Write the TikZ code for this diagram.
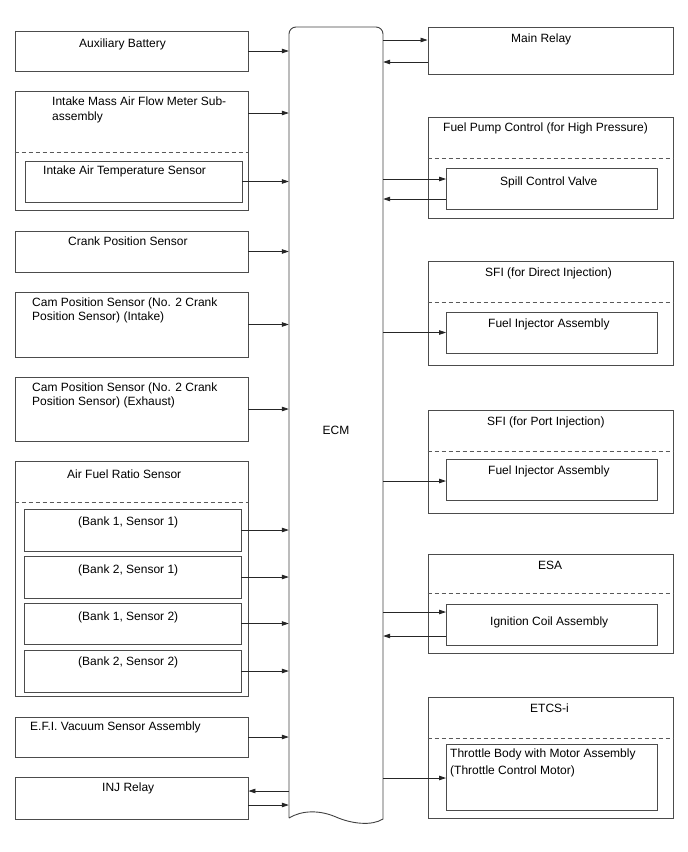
\documentclass[tikz,border=0pt]{standalone}
\usepackage{fontspec}
\setmainfont{Liberation Sans}
\usetikzlibrary{arrows.meta}
\begin{document}
\begin{tikzpicture}[x=1pt,y=-1pt,
  box/.style={draw=black!70, line width=0.9pt, inner sep=0, minimum height=#1},
  lbox/.style={box=#1, minimum width=233},
  linner/.style={box=#1, minimum width=217},
  rbox/.style={box=#1, minimum width=245},
  rinner/.style={box=#1, minimum width=211},
  lbl/.style={anchor=base west, inner sep=0, font=\fontsize{12}{14}\selectfont},
  dsh/.style={draw=black!65, line width=0.8pt, dash pattern=on 4pt off 3pt},
  arr/.style={-{Triangle[length=7pt,width=4.5pt]}, line width=0.8pt, draw=black!85}]
\useasboundingbox (0,0) rectangle (688,852);

% ECM
\node[minimum width=94, minimum height=793, inner sep=0] (ecm) at (336,423.5) {};
\draw[draw=black!75, line width=0.9pt] (289,818) {[rounded corners=7] -- (289,27) -- (383,27)} -- (383,819)
  .. controls (372,826) and (352,824) .. (336,817)
  .. controls (320,810) and (302,810) .. (289,818);
\node[lbl, anchor=base] (ecmlbl) at (336,434) {ECM};

% Left side
\node[lbox=40] (aux) at (131.5,51) {};
\node[lbl] (auxt) at (79,47.3) {Auxiliary Battery};

\node[lbox=119] (maf) at (131.5,150.5) {};
\node[lbl] (maft1) at (52,105.3) {Intake Mass Air Flow Meter Sub-};
\node[lbl] (maft2) at (52,120.3) {assembly};
\draw[dsh] ([yshift=-62]maf.north west) -- ([yshift=-62]maf.north east);
\node[linner=41] (iat) at (133.5,181.5) {};
\node[lbl] (iatt) at (43,174.3) {Intake Air Temperature Sensor};

\node[lbox=41] (crank) at (131.5,251.5) {};
\node[lbl] (crankt) at (68,245.3) {Crank Position Sensor};

\node[lbox=65] (camin) at (131.5,324.5) {};
\node[lbl] (camint1) at (32,306.3) {Cam Position Sensor (No. 2 Crank};
\node[lbl] (camint2) at (32,320.3) {Position Sensor) (Intake)};

\node[lbox=64] (camex) at (131.5,409) {};
\node[lbl] (camext1) at (32,391.3) {Cam Position Sensor (No. 2 Crank};
\node[lbl] (camext2) at (32,405.3) {Position Sensor) (Exhaust)};

\node[lbox=235] (afr) at (131.5,578.5) {};
\node[lbl] (afrt) at (67,478.3) {Air Fuel Ratio Sensor};
\draw[dsh] ([yshift=-42]afr.north west) -- ([yshift=-42]afr.north east);
\node[linner=42] (b11) at (132.5,530) {};
\node[lbl] (b11t) at (78,525.3) {(Bank 1, Sensor 1)};
\node[linner=42] (b21) at (132.5,577) {};
\node[lbl] (b21t) at (78,573.3) {(Bank 2, Sensor 1)};
\node[linner=41] (b12) at (132.5,623.5) {};
\node[lbl] (b12t) at (78,620.3) {(Bank 1, Sensor 2)};
\node[linner=42] (b22) at (132.5,671) {};
\node[lbl] (b22t) at (78,665.3) {(Bank 2, Sensor 2)};

\node[lbox=40] (efi) at (131.5,737) {};
\node[lbl] (efit) at (30,730.3) {E.F.I. Vacuum Sensor Assembly};

\node[lbox=42] (inj) at (131.5,798) {};
\node[lbl] (injt) at (102,791.3) {INJ Relay};

% Right side
\node[rbox=47] (mr) at (550.5,50.5) {};
\node[lbl] (mrt) at (511,42.3) {Main Relay};

\node[rbox=101] (fpc) at (550.5,167.5) {};
\node[lbl] (fpct) at (443,131.3) {Fuel Pump Control (for High Pressure)};
\draw[dsh] ([yshift=-42]fpc.north west) -- ([yshift=-42]fpc.north east);
\node[rinner=41] (scv) at (552,188.5) {};
\node[lbl] (scvt) at (500,185.3) {Spill Control Valve};

\node[rbox=104] (sfid) at (550.5,313) {};
\node[lbl] (sfidt) at (485,276.3) {SFI (for Direct Injection)};
\draw[dsh] ([yshift=-42]sfid.north west) -- ([yshift=-42]sfid.north east);
\node[rinner=41] (fi1) at (552,332.5) {};
\node[lbl] (fi1t) at (488,327.3) {Fuel Injector Assembly};

\node[rbox=103] (sfip) at (550.5,461.5) {};
\node[lbl] (sfipt) at (487,425.3) {SFI (for Port Injection)};
\draw[dsh] ([yshift=-42]sfip.north west) -- ([yshift=-42]sfip.north east);
\node[rinner=41] (fi2) at (552,479.5) {};
\node[lbl] (fi2t) at (488,474.3) {Fuel Injector Assembly};

\node[rbox=99] (esa) at (550.5,603.5) {};
\node[lbl] (esat) at (538,569.3) {ESA};
\draw[dsh] ([yshift=-40]esa.north west) -- ([yshift=-40]esa.north east);
\node[rinner=41] (coil) at (552,624.5) {};
\node[lbl] (coilt) at (490,625.3) {Ignition Coil Assembly};

\node[rbox=121] (etcs) at (550.5,757.5) {};
\node[lbl] (etcst) at (530,712.3) {ETCS-i};
\draw[dsh] ([yshift=-42]etcs.north west) -- ([yshift=-42]etcs.north east);
\node[rinner=66] (tb) at (552,777) {};
\node[lbl] (tbt1) at (450,757.3) {Throttle Body with Motor Assembly};
\node[lbl] (tbt2) at (450,774.3) {(Throttle Control Motor)};

% Connectors left
\draw[arr] (aux.east) -- (aux.east -| ecm.west);
\draw[arr] ([yshift=37.5]maf.east) -- ([yshift=37.5]maf.east -| ecm.west);
\draw[arr] (iat.east) -- (iat.east -| ecm.west);
\draw[arr] (crank.east) -- (crank.east -| ecm.west);
\draw[arr] (camin.east) -- (camin.east -| ecm.west);
\draw[arr] (camex.east) -- (camex.east -| ecm.west);
\draw[arr] (b11.east) -- (b11.east -| ecm.west);
\draw[arr] (b21.east) -- (b21.east -| ecm.west);
\draw[arr] (b12.east) -- (b12.east -| ecm.west);
\draw[arr] (b22.east) -- (b22.east -| ecm.west);
\draw[arr] (efi.east) -- (efi.east -| ecm.west);
\draw[arr] ([yshift=7]inj.east -| ecm.west) -- ([yshift=7]inj.east);
\draw[arr] ([yshift=-7]inj.east) -- ([yshift=-7]inj.east -| ecm.west);

% Connectors right
\draw[arr] ([yshift=10.5]mr.west -| ecm.east) -- ([yshift=10.5]mr.west);
\draw[arr] ([yshift=-11.5]mr.west) -- ([yshift=-11.5]mr.west -| ecm.east);
\draw[arr] ([yshift=9.5]scv.west -| ecm.east) -- ([yshift=9.5]scv.west);
\draw[arr] ([yshift=-10.5]scv.west) -- ([yshift=-10.5]scv.west -| ecm.east);
\draw[arr] (fi1.west -| ecm.east) -- (fi1.west);
\draw[arr] ([yshift=-1.5]fi2.west -| ecm.east) -- ([yshift=-1.5]fi2.west);
\draw[arr] ([yshift=12.5]coil.west -| ecm.east) -- ([yshift=12.5]coil.west);
\draw[arr] ([yshift=-11.5]coil.west) -- ([yshift=-11.5]coil.west -| ecm.east);
\draw[arr] ([yshift=-1]tb.west -| ecm.east) -- ([yshift=-1]tb.west);
\end{tikzpicture}
\end{document}
